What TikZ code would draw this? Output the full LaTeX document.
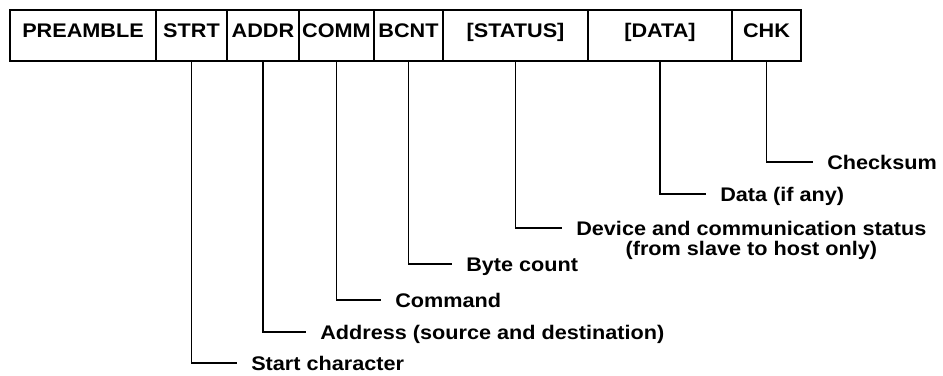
\documentclass[tikz,border=0pt]{standalone}
\usepackage{fontspec}
\setmainfont[FakeStretch=1.1]{Liberation Sans}
\usepackage{tikz}
\usetikzlibrary{positioning}

\tikzset{
  fld/.style={draw, line width=1.2pt, outer sep=0pt, inner xsep=0pt, inner ysep=0pt,
    text height=0.675cm, text depth=0.6cm},
  lbl/.style={anchor=west, inner xsep=0.35cm, inner ysep=0pt, text height=0.35cm, text depth=0pt},
  lbltwo/.style={anchor=north west, inner xsep=0.35cm, inner ysep=0pt, align=center},
  conn/.style={line width=1.2pt}
}

\begin{document}
\begin{tikzpicture}[font=\fontsize{14}{14.5}\selectfont\bfseries]
  \useasboundingbox (0,0) rectangle (23.575,-9.375);
  % message frame
  \node[fld, minimum width=3.65cm, anchor=north west] (pre) at (0.25,-0.25) {PREAMBLE};
  \node[fld, minimum width=1.775cm, right=0pt of pre] (strt) {STRT};
  \node[fld, minimum width=1.8cm, right=0pt of strt] (addr) {ADDR};
  \node[fld, minimum width=1.875cm, right=0pt of addr] (comm) {COMM};
  \node[fld, minimum width=1.725cm, right=0pt of comm] (bcnt) {BCNT};
  \node[fld, minimum width=3.625cm, right=0pt of bcnt] (stat) {[STATUS]};
  \node[fld, minimum width=3.6cm, right=0pt of stat] (data) {[DATA]};
  \node[fld, minimum width=1.725cm, right=0pt of data] (chk) {CHK};

  % field descriptions
  \node[lbl] (lchk) at (20.325,-4.05) {Checksum};
  \node[lbl] (ldata) at (17.65,-4.85) {Data (if any)};
  \node[lbltwo] (lstat) at (14.05,-5.52) {Device and communication status\\(from slave to host only)};
  \node[lbl] (lbcnt) at (11.3,-6.6) {Byte count};
  \node[lbl] (lcomm) at (9.525,-7.5) {Command};
  \node[lbl] (laddr) at (7.65,-8.3) {Address (source and destination)};
  \node[lbl] (lstrt) at (5.925,-9.08) {Start character};

  \draw[conn] (chk) |- (lchk);
  \draw[conn] (data) |- (ldata);
  \draw[conn] (stat) |- ([yshift=-0.18cm]lstat.north west);
  \draw[conn] (bcnt) |- (lbcnt);
  \draw[conn] (comm) |- (lcomm);
  \draw[conn] (addr) |- (laddr);
  \draw[conn] (strt) |- (lstrt);
\end{tikzpicture}
\end{document}
